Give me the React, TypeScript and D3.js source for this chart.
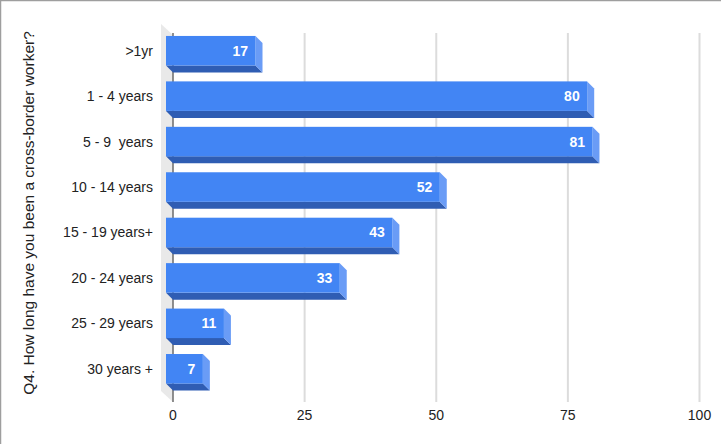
import React from "react";
import * as d3 from "d3";

const categories = [">1yr", "1 - 4 years", "5 - 9  years", "10 - 14 years", "15 - 19 years+", "20 - 24 years", "25 - 29 years", "30 years +"];
const values = [17, 80, 81, 52, 43, 33, 11, 7];
const xTicks = [0, 25, 50, 75, 100];
const axisTitle = "Q4. How long have you been a cross-border worker?";

const W = 721;
const H = 444;
const DEPTH = 7;
const FONT = "Arial, 'Liberation Sans', sans-serif";

export default function App() {
  const x = d3.scaleLinear().domain([0, 100]).range([173, 699.5]);
  const y = d3.scaleBand<string>().domain(categories).range([35, 398.5]).paddingInner(0.35).paddingOuter(0.175);
  const bh = y.bandwidth();
  const x0 = x(0);

  return (
    <svg width={W} height={H} style={{ position: "absolute", left: 0, top: 0, display: "block", background: "#fff" }}>
      <rect x={0} y={0} width={W} height={H} fill="#fff" />
      <line x1={0} y1={0.5} x2={W} y2={0.5} stroke="#9e9e9e" strokeWidth={1.5} />
      <line x1={0.5} y1={0} x2={0.5} y2={H} stroke="#9e9e9e" strokeWidth={1.5} />
      {/* wall */}
      <polygon points={`161,24 ${x0},35 ${x0},402 161,391`} fill="#e9e9e9" />
      {/* gridlines */}
      {xTicks.filter((t) => t !== 0).map((t) => (
        <line key={t} x1={x(t)} x2={x(t)} y1={33} y2={402} stroke="#dcdcdc" strokeWidth={2} />
      ))}
      <line x1={x0} x2={x0} y1={33} y2={402} stroke="#6b6b6b" strokeWidth={1.5} />
      {/* bars */}
      {categories.map((c, i) => {
        const v = values[i];
        const yb = y(c)!;
        const x1 = x(v);
        const fx0 = x0 - DEPTH;
        const fx1 = x1 - DEPTH;
        const fy0 = yb - DEPTH;
        const fy1 = yb + bh - DEPTH;
        return (
          <g key={c}>
            <polygon points={`${fx0},${fy1} ${fx1},${fy1} ${x1},${yb + bh} ${x0},${yb + bh}`} fill="#2f5db3" />
            <polygon points={`${fx1},${fy0} ${x1},${yb} ${x1},${yb + bh} ${fx1},${fy1}`} fill="#6a9cf6" />
            <rect x={fx0} y={fy0} width={fx1 - fx0} height={bh} fill="#4285f4" />
            <text x={fx1 - 7.5} y={(fy0 + fy1) / 2 + 5} textAnchor="end" fill="#fff" fontFamily={FONT} fontSize={14} fontWeight="bold">
              {v}
            </text>
            <text x={153} y={(fy0 + fy1) / 2 + 5} textAnchor="end" fill="#222" fontFamily={FONT} fontSize={14} style={{ whiteSpace: "pre" }}>
              {c}
            </text>
          </g>
        );
      })}
      {/* tick labels */}
      {xTicks.map((t) => (
        <text key={t} x={x(t)} y={420} textAnchor="middle" fill="#222" fontFamily={FONT} fontSize={14}>
          {t}
        </text>
      ))}
      <text transform={`translate(34,213) rotate(-90)`} textAnchor="middle" fill="#222" fontFamily={FONT} fontSize={15.5}>
        {axisTitle}
      </text>
    </svg>
  );
}
